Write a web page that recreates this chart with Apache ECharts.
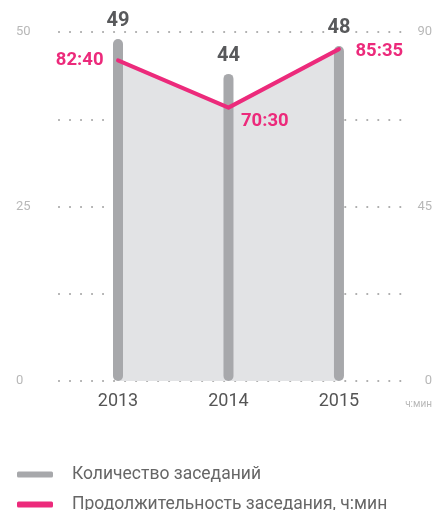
<!DOCTYPE html>
<html><head><meta charset="utf-8">
<script src="https://cdn.jsdelivr.net/npm/echarts@6/dist/echarts.min.js"></script>
<style>html,body{margin:0;padding:0;background:#fff}#c{width:435px;height:510px}</style>
</head><body><div id="c"></div>
<script>
const years = [2013, 2014, 2015];
const meetings = [49, 44, 48];
const durations = ['82:40', '70:30', '85:35'];
const leftTicks = [0, 25, 50];
const rightTicks = [0, 45, 90];
const seriesNames = ['Количество заседаний', 'Продолжительность заседания, ч:мин'];
const unitLabel = 'ч:мин';

const toHours = s => { const p = s.split(':'); return +p[0] + (+p[1]) / 60; };
const hours = durations.map(toHours);

const PINK = '#ec2a7b', GRAY = '#a7a8ab', FONT = 'Roboto';
const durLabelCfg = [
  { position: 'left', distance: 14, offset: [0, 0] },
  { position: 'right', distance: 12, offset: [0, 14] },
  { position: 'right', distance: 16, offset: [0, 2] }
];

const chart = echarts.init(document.getElementById('c'), null, { renderer: 'canvas' });
chart.setOption({
  animation: false,
  textStyle: { fontFamily: FONT },
  grid: { left: 59, right: 25, top: 32, bottom: 129 },
  xAxis: {
    type: 'value', min: 2012.466, max: 2015.643,
    axisLine: { show: false }, axisTick: { show: false }, splitLine: { show: false },
    axisLabel: { customValues: years, formatter: v => String(v), color: '#555', fontSize: 18, margin: 11, fontFamily: FONT }
  },
  yAxis: [
    {
      type: 'value', min: 0, max: 50, interval: 12.5,
      axisLine: { show: false }, axisTick: { show: false },
      axisLabel: { formatter: v => leftTicks.includes(v) ? String(v) : '', color: '#b8b8b8', fontSize: 13, align: 'left', margin: 43 },
      splitLine: { lineStyle: { color: '#a9a9a9', width: 2.2, type: [0.01, 11], cap: 'round' } }
    },
    {
      type: 'value', min: 0, max: 90, interval: 22.5,
      axisLine: { show: false }, axisTick: { show: false }, splitLine: { show: false },
      axisLabel: { formatter: v => rightTicks.includes(v) ? String(v) : '', color: '#b8b8b8', fontSize: 13, align: 'right', margin: 22 }
    }
  ],
  legend: {
    orient: 'vertical', left: 17, top: 465, height: 80, padding: 0, itemGap: 11,
    itemWidth: 36, itemHeight: 6,
    textStyle: { color: '#666', fontSize: 17.5, lineHeight: 19, padding: [0, 0, 0, 14], fontFamily: FONT },
    data: [
      { name: seriesNames[0], icon: 'roundRect', itemStyle: { color: GRAY } },
      { name: seriesNames[1], icon: 'roundRect', itemStyle: { color: PINK } }
    ]
  },
  graphic: [{ type: 'text', right: 3, top: 399, style: { text: unitLabel, fill: '#b8b8b8', fontSize: 10, fontFamily: FONT } }],
  series: [
    {
      type: 'line', name: 'area', yAxisIndex: 1, z: 1, silent: true,
      data: years.map((y, i) => [y, hours[i]]),
      symbol: 'none', lineStyle: { width: 0 },
      areaStyle: { color: '#e2e3e5', opacity: 1 }
    },
    {
      type: 'bar', name: seriesNames[0], yAxisIndex: 0, z: 2,
      data: years.map((y, i) => [y, meetings[i]]),
      barWidth: 10,
      itemStyle: { color: GRAY, borderRadius: 5 },
      label: { show: true, position: 'top', distance: 8, color: '#58595b', fontSize: 20, fontWeight: 'bold', fontFamily: FONT }
    },
    {
      type: 'line', name: seriesNames[1], yAxisIndex: 1, z: 3,
      data: years.map((y, i) => ({
        value: [y, hours[i]],
        label: Object.assign({ show: true, formatter: durations[i] }, durLabelCfg[i])
      })),
      symbol: 'circle', symbolSize: 1, showSymbol: true,
      itemStyle: { color: PINK },
      lineStyle: { color: PINK, width: 4, cap: 'round', join: 'round' },
      label: { color: PINK, fontSize: 18.5, fontWeight: 'bold', fontFamily: FONT }
    }
  ]
});
</script></body></html>
